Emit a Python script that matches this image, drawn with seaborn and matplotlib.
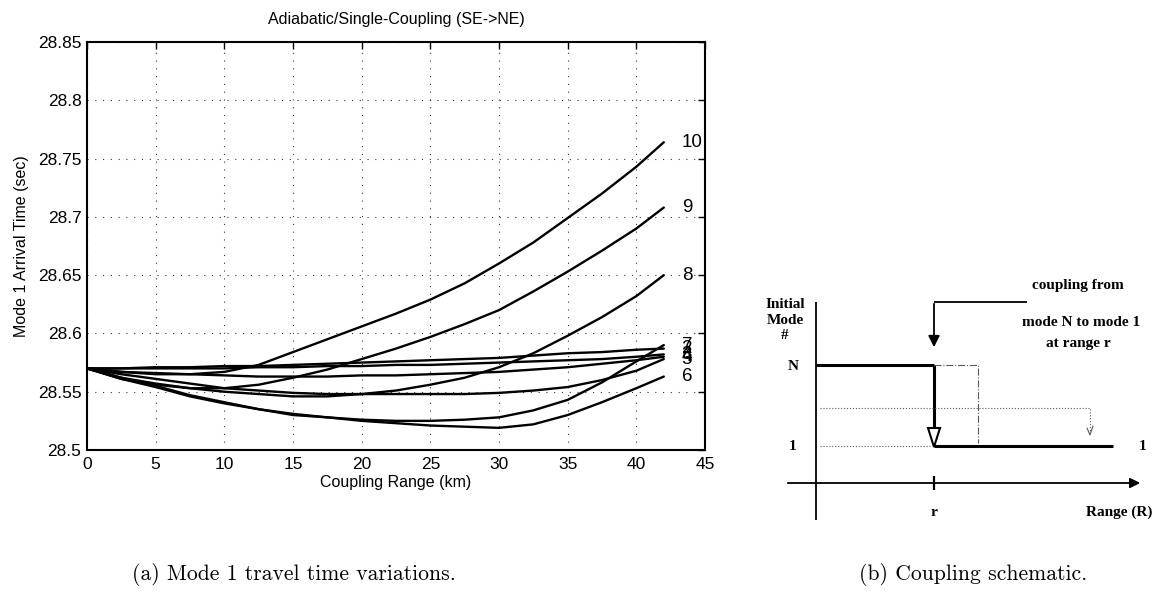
import numpy as np
import pandas as pd
import matplotlib
matplotlib.use("Agg")
import matplotlib.pyplot as plt
from matplotlib.patches import Polygon
import seaborn as sns

# ---------------- data ----------------
range_km = [0, 2.5, 5, 7.5, 10, 12.5, 15, 17.5, 20, 22.5, 25, 27.5, 30, 32.5, 35, 37.5, 40, 42]
mode10 = [28.570, 28.567, 28.565, 28.565, 28.567, 28.573, 28.584, 28.595, 28.606, 28.617,
          28.629, 28.643, 28.660, 28.678, 28.699, 28.720, 28.743, 28.764]
mode9 = [28.570, 28.561, 28.556, 28.553, 28.553, 28.556, 28.562, 28.569, 28.578, 28.587,
         28.597, 28.608, 28.620, 28.636, 28.653, 28.671, 28.690, 28.708]
mode8 = [28.570, 28.562, 28.557, 28.553, 28.550, 28.548, 28.546, 28.546, 28.548, 28.551,
         28.556, 28.562, 28.571, 28.583, 28.598, 28.614, 28.632, 28.650]
mode7 = [28.570, 28.562, 28.555, 28.547, 28.541, 28.535, 28.530, 28.528, 28.526, 28.525,
         28.525, 28.526, 28.528, 28.534, 28.543, 28.558, 28.576, 28.590]
mode6 = [28.570, 28.561, 28.554, 28.546, 28.540, 28.535, 28.531, 28.528, 28.525, 28.523,
         28.521, 28.520, 28.519, 28.522, 28.530, 28.541, 28.553, 28.563]
mode5 = [28.570, 28.565, 28.561, 28.557, 28.553, 28.551, 28.549, 28.548, 28.548, 28.548,
         28.548, 28.548, 28.549, 28.551, 28.554, 28.560, 28.568, 28.578]
mode4 = [28.570, 28.567, 28.566, 28.565, 28.564, 28.563, 28.563, 28.563, 28.564, 28.564,
         28.565, 28.566, 28.567, 28.569, 28.571, 28.574, 28.577, 28.580]
mode3 = [28.570, 28.570, 28.570, 28.570, 28.570, 28.571, 28.571, 28.572, 28.572, 28.573,
         28.573, 28.574, 28.575, 28.576, 28.577, 28.578, 28.580, 28.582]
mode2 = [28.570, 28.570, 28.571, 28.571, 28.572, 28.572, 28.573, 28.574, 28.575, 28.576,
         28.577, 28.578, 28.579, 28.581, 28.583, 28.584, 28.586, 28.587]

mode_names = ["2", "3", "4", "5", "6", "7", "8", "9", "10"]
mode_series = [mode2, mode3, mode4, mode5, mode6, mode7, mode8, mode9, mode10]

x_ticks = [0, 5, 10, 15, 20, 25, 30, 35, 40, 45]
y_ticks = [28.5, 28.55, 28.6, 28.65, 28.7, 28.75, 28.8, 28.85]
y_tick_labels = ["28.5", "28.55", "28.6", "28.65", "28.7", "28.75", "28.8", "28.85"]

title = "Adiabatic/Single-Coupling (SE->NE)"
x_label = "Coupling Range (km)"
y_label = "Mode 1 Arrival Time (sec)"
caption_a = "(a) Mode 1 travel time variations."
caption_b = "(b) Coupling schematic."

# ---------------- style ----------------
sns.set_theme(style="white")
plt.rcParams["font.family"] = ["Liberation Sans", "DejaVu Sans"]

W, H = 1156, 600
fig = plt.figure(figsize=(W / 100, H / 100), dpi=100)
fig.patch.set_facecolor("white")

# main chart axes (pixel box -> figure fraction)
L, R, T, B = 87, 705, 42, 450
ax = fig.add_axes([L / W, 1 - B / H, (R - L) / W, (B - T) / H])

rows = []
for name, vals in zip(mode_names, mode_series):
    for xv, yv in zip(range_km, vals):
        rows.append({"range": xv, "time": yv, "mode": name})
df = pd.DataFrame(rows)

sns.lineplot(data=df, x="range", y="time", hue="mode", units="mode",
             estimator=None, sort=False, legend=False,
             palette={n: "black" for n in mode_names}, linewidth=1.7, ax=ax)

ax.set_xlim(0, 45)
ax.set_ylim(28.5, 28.85)
ax.set_xticks(x_ticks)
ax.set_xticklabels([str(t) for t in x_ticks])
ax.set_yticks(y_ticks)
ax.set_yticklabels(y_tick_labels)
ax.grid(True, color="black", linestyle=(0, (1, 6)), linewidth=0.8, alpha=0.8)
ax.tick_params(direction="in", top=True, right=True, length=5, width=1,
               labelsize=12.5, colors="black", pad=4)
ax.tick_params(axis="x", pad=5)
for s in ax.spines.values():
    s.set_color("black")
    s.set_linewidth(1.5)
ax.set_title(title, fontsize=11.5, color="black", pad=13)
ax.set_xlabel(x_label, fontsize=11.5, color="black", labelpad=2)
ax.set_ylabel(y_label, fontsize=11.5, color="black", labelpad=6)

# end-of-curve labels
for name, vals in zip(mode_names, mode_series):
    ax.text(range_km[-1] + 1.3, vals[-1], name, fontsize=13.5, va="center",
            ha="left", color="black", clip_on=False)

# ---------------- schematic (b) in pixel coordinates ----------------
sx = fig.add_axes([0, 0, 1, 1])
sx.set_xlim(0, W)
sx.set_ylim(H, 0)
sx.axis("off")
sx.patch.set_alpha(0)

serif = ["Liberation Serif", "DejaVu Serif"]
k = dict(color="black", solid_capstyle="butt")
# axes of schematic
sx.plot([816, 816], [302, 520], lw=1.3, **k)
sx.annotate("", xy=(1143, 483), xytext=(785, 483),
            arrowprops=dict(arrowstyle="-|>", color="black", lw=1.3, mutation_scale=15))
sx.plot([934, 934], [476, 490], lw=1.6, **k)
# mode N path then coupling down to mode 1
sx.plot([816, 934], [365, 365], lw=2.2, **k)
sx.plot([934, 934], [365, 428], lw=2.2, **k)
sx.add_patch(Polygon([(928, 428), (940, 428), (934, 447)], closed=True,
                     facecolor="white", edgecolor="black", lw=1.5))
sx.plot([934, 1113], [446, 446], lw=2.2, **k)
# alternative paths (thin)
sx.plot([934, 978, 978], [365, 365, 443], lw=0.8, linestyle="-.", color="0.35")
sx.plot([820, 1090, 1090], [408, 408, 432], lw=0.8, linestyle=":", color="0.35")
sx.plot([1087, 1090, 1093], [428, 435, 426], lw=0.8, color="0.35")
sx.plot([820, 930], [446, 446], lw=0.8, linestyle=":", color="0.35")
# top call-out arrow
sx.plot([1027, 934], [302, 302], lw=1.3, **k)
sx.annotate("", xy=(934, 350), xytext=(934, 301),
            arrowprops=dict(arrowstyle="-|>", color="black", lw=1.3, mutation_scale=17))
# texts
tk = dict(family=serif, fontweight="bold", color="black", fontsize=11)
sx.text(785, 320, "Initial\nMode\n#", ha="center", va="center", linespacing=1.25, **tk)
sx.text(793, 367, "N", ha="center", va="center", **tk)
sx.text(793, 447, "1", ha="center", va="center", **tk)
sx.text(1143, 447, "1", ha="center", va="center", **tk)
sx.text(934, 512, "r", ha="center", va="center", **tk)
sx.text(1152, 512, "Range (R)", ha="right", va="center", **tk)
sx.text(1078, 285, "coupling from", ha="center", va="center", **tk)
sx.text(1081, 323, "mode N to mode 1", ha="center", va="center", **tk)
sx.text(1078, 343, "at range r", ha="center", va="center", **tk)

# captions
cap = dict(family=["cmr10", "DejaVu Serif"], fontsize=15.6, color="black", ha="center", va="center")
fig.text(294 / W, 1 - 575 / H, caption_a, **cap)
fig.text(973 / W, 1 - 575 / H, caption_b, **cap)

fig.savefig("out.png", dpi=100, facecolor="white")
